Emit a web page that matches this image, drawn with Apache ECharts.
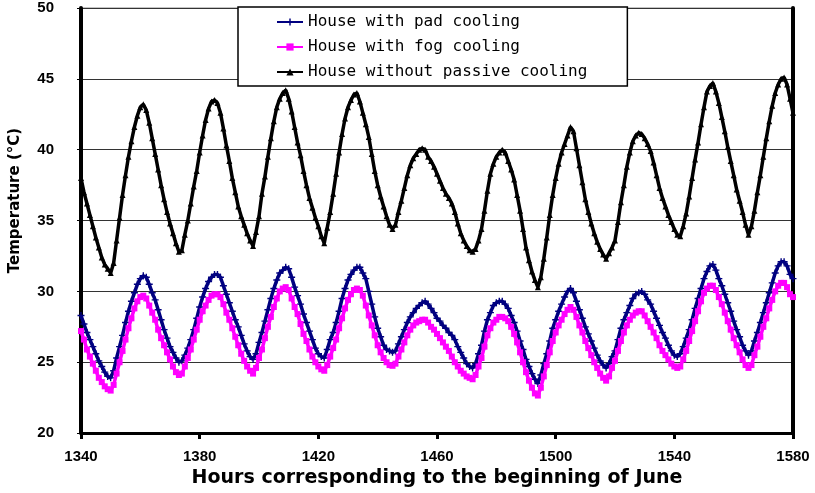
<!DOCTYPE html>
<html>
<head>
<meta charset="utf-8">
<script src="https://cdn.jsdelivr.net/npm/echarts@6/dist/echarts.min.js"></script>
<style>
html,body{margin:0;padding:0;background:#fff;}
#chart{width:815px;height:493px;}
</style>
</head>
<body>
<div id="chart"></div>
<script>
const seriesNames = ['House with pad cooling', 'House with fog cooling', 'House without passive cooling'];
const startHour = 1340;
const xMin = 1340, xMax = 1580, xStep = 40;
const yMin = 20, yMax = 50, yStep = 5;

const padCooling = [
28.3,27.7,27.1,26.6,26.1,25.6,25.1,24.7,24.3,24.0,
23.9,24.4,25.3,26.1,26.9,27.8,28.6,29.3,29.9,30.5,
30.9,31.1,31.0,30.5,29.9,29.4,28.7,28.0,27.3,26.7,
26.1,25.7,25.3,25.0,25.1,25.5,26.0,26.6,27.3,28.1,
28.9,29.6,30.2,30.7,31.0,31.2,31.2,31.0,30.4,29.8,
29.2,28.6,28.0,27.5,26.9,26.3,25.8,25.4,25.2,25.6,
26.4,27.1,27.9,28.7,29.5,30.2,30.8,31.3,31.5,31.7,
31.6,31.0,30.3,29.7,29.1,28.4,27.8,27.2,26.6,26.0,
25.6,25.4,25.3,25.9,26.6,27.1,27.8,28.6,29.5,30.2,
30.8,31.2,31.5,31.7,31.7,31.3,30.9,30.0,29.1,28.2,
27.4,26.8,26.2,25.9,25.8,25.7,25.8,26.3,26.8,27.3,
27.8,28.2,28.5,28.8,29.0,29.2,29.3,29.1,28.8,28.5,
28.1,27.9,27.6,27.4,27.1,26.9,26.6,26.1,25.7,25.3,
24.9,24.7,24.6,24.9,25.6,26.2,27.2,28.0,28.5,29.0,
29.2,29.3,29.3,29.1,28.8,28.3,27.8,27.2,26.5,25.9,
25.2,24.7,24.2,23.8,23.5,24.1,24.9,25.6,26.5,27.4,
28.0,28.6,29.1,29.6,30.0,30.2,29.9,29.3,28.7,28.1,
27.5,27.0,26.5,26.0,25.5,25.1,24.8,24.6,24.9,25.4,
25.8,26.6,27.4,28.0,28.5,29.0,29.5,29.8,29.9,30.0,
29.8,29.4,29.1,28.6,28.1,27.6,27.1,26.7,26.2,25.8,
25.5,25.4,25.6,26.1,26.7,27.3,28.0,28.8,29.5,30.2,
30.9,31.4,31.8,31.9,31.5,30.9,30.4,29.8,29.2,28.6,
27.9,27.3,26.8,26.2,25.8,25.5,25.8,26.5,27.1,27.8,
28.5,29.2,29.9,30.6,31.3,31.8,32.1,32.1,31.8,31.2,
30.9
];

const fogCooling = [
27.2,26.6,25.9,25.4,24.9,24.4,23.9,23.6,23.3,23.1,
23.0,23.4,24.2,25.0,25.8,26.6,27.4,28.1,28.8,29.3,
29.6,29.7,29.5,29.0,28.5,28.0,27.3,26.7,26.2,25.7,
25.2,24.7,24.3,24.1,24.2,24.7,25.3,25.9,26.6,27.3,
28.0,28.6,29.0,29.4,29.7,29.8,29.8,29.6,29.1,28.5,
28.0,27.4,26.8,26.2,25.6,25.1,24.7,24.4,24.2,24.6,
25.3,25.9,26.7,27.5,28.2,28.9,29.5,30.0,30.2,30.3,
30.1,29.5,28.9,28.4,27.7,27.0,26.5,25.9,25.4,25.0,
24.7,24.5,24.4,24.8,25.4,26.0,26.6,27.4,28.1,28.8,
29.4,29.8,30.1,30.2,30.1,29.7,29.0,28.3,27.6,26.9,
26.2,25.7,25.3,25.0,24.8,24.75,24.9,25.4,25.9,26.4,
26.9,27.3,27.6,27.8,27.9,28.0,28.0,27.8,27.5,27.3,
27.0,26.7,26.4,26.1,25.8,25.4,25.0,24.7,24.4,24.2,
24.0,23.9,23.8,24.1,24.7,25.3,26.1,26.9,27.4,27.8,
28.0,28.2,28.2,28.1,27.9,27.5,27.0,26.4,25.7,25.0,
24.3,23.7,23.2,22.8,22.65,23.2,24.0,24.8,25.7,26.5,
27.1,27.6,28.0,28.4,28.7,28.9,28.7,28.2,27.6,27.1,
26.5,26.0,25.5,25.0,24.6,24.2,23.9,23.7,24.0,24.6,
25.1,25.8,26.5,27.1,27.6,28.0,28.3,28.5,28.6,28.6,
28.3,27.9,27.5,27.1,26.7,26.2,25.8,25.5,25.2,24.9,
24.7,24.6,24.7,25.2,25.8,26.5,27.2,27.9,28.6,29.3,
29.9,30.2,30.4,30.4,30.1,29.6,29.1,28.5,27.9,27.3,
26.7,26.2,25.7,25.2,24.8,24.6,24.8,25.5,26.1,26.8,
27.5,28.1,28.8,29.4,30.0,30.4,30.6,30.6,30.3,29.8,
29.6
];

const noPassive = [
38.0,37.0,36.2,35.4,34.6,33.8,33.1,32.4,31.9,31.6,
31.3,32.0,33.6,35.2,36.8,38.2,39.5,40.6,41.6,42.4,
43.0,43.2,42.8,41.9,40.8,39.7,38.6,37.5,36.5,35.6,
34.8,34.1,33.4,32.8,32.9,34.0,35.0,36.2,37.4,38.5,
39.8,41.0,42.1,42.9,43.4,43.5,43.3,42.6,41.5,40.3,
39.2,38.0,37.0,36.0,35.3,34.7,34.1,33.6,33.2,34.2,
35.3,36.9,38.1,39.5,40.8,42.0,43.0,43.6,44.0,44.2,
43.6,42.7,41.6,40.5,39.6,38.5,37.5,36.6,35.9,35.2,
34.6,33.9,33.4,34.5,35.6,36.9,38.3,39.8,41.1,42.2,
43.0,43.5,43.9,44.0,43.4,42.6,41.8,40.9,39.7,38.5,
37.5,36.7,36.0,35.3,34.7,34.4,34.7,35.6,36.4,37.3,
38.2,38.9,39.4,39.7,40.0,40.1,40.0,39.5,39.2,38.8,
38.3,37.8,37.3,36.9,36.6,36.2,35.6,34.8,34.1,33.6,
33.2,32.9,32.8,33.0,33.6,34.4,35.7,37.1,38.3,39.0,
39.5,39.8,40.0,39.8,39.2,38.6,37.9,36.8,35.7,34.4,
33.1,32.2,31.4,30.8,30.3,31.0,32.3,33.8,35.4,36.8,
38.0,39.0,39.8,40.4,41.0,41.6,41.3,40.1,38.9,37.7,
36.5,35.6,34.8,34.1,33.5,33.0,32.6,32.3,32.7,33.1,
33.6,34.9,36.3,37.5,38.8,39.8,40.6,41.0,41.2,41.1,
40.8,40.4,39.9,39.1,38.2,37.3,36.6,36.0,35.4,34.9,
34.4,34.0,33.9,34.6,35.5,36.7,38.0,39.3,40.5,41.8,
43.0,44.1,44.5,44.7,44.1,43.3,42.3,41.3,40.2,39.2,
38.2,37.2,36.4,35.6,34.7,34.0,34.6,35.7,37.0,38.2,
39.5,40.8,42.0,43.1,44.0,44.6,45.0,45.1,44.6,43.6,
42.6
];

function pairs(vals) {
  return vals.map((v, i) => [startHour + i, v]);
}

const plusPath = 'path://M4,0H6V4H10V6H6V10H4V6H0V4H4Z';
const chart = echarts.init(document.getElementById('chart'), null, {renderer: 'canvas'});
const boldAxis = {fontFamily: 'Liberation Sans', fontWeight: 'bold', fontSize: 15, color: '#000',
  formatter: v => String(v)};

chart.setOption({
  animation: false,
  backgroundColor: '#fff',
  grid: {left: 69, right: 22, top: 8, bottom: 53, show: true, borderColor: '#888', borderWidth: 1},
  legend: {
    orient: 'vertical',
    left: 238, top: 7,
    width: 397,
    padding: [7, 40, 6, 38],
    backgroundColor: '#fff',
    borderColor: '#000',
    borderWidth: 1.5,
    itemWidth: 26, itemHeight: 9, itemGap: 9,
    textStyle: {fontFamily: 'DejaVu Sans Mono', fontSize: 16, color: '#000', lineHeight: 16},
    data: seriesNames
  },
  xAxis: {
    type: 'value', min: xMin, max: xMax, interval: xStep,
    name: 'Hours corresponding to the beginning of June',
    nameLocation: 'middle', nameGap: 35,
    nameTextStyle: {fontFamily: 'DejaVu Sans', fontWeight: 'bold', fontSize: 19, color: '#000'},
    axisLine: {lineStyle: {color: '#000', width: 3}},
    axisTick: {length: 6, lineStyle: {color: '#000', width: 3}},
    axisLabel: Object.assign({margin: 16}, boldAxis),
    splitLine: {show: false}
  },
  yAxis: [{
    type: 'value', min: yMin, max: yMax, interval: yStep,
    name: 'Temperature (°C)',
    nameLocation: 'middle', nameGap: 58,
    nameTextStyle: {fontFamily: 'DejaVu Sans', fontWeight: 'bold', fontSize: 15, color: '#000', padding: [0, 0, 0, 40]},
    axisLine: {show: true, lineStyle: {color: '#000', width: 4}},
    axisTick: {show: true, length: 4, lineStyle: {color: '#000', width: 1}},
    axisLabel: Object.assign({margin: 27}, boldAxis),
    splitLine: {show: true, lineStyle: {color: '#333', width: 1}}
  }, {
    type: 'value', min: yMin, max: yMax, interval: yStep, position: 'right',
    axisLine: {show: true, lineStyle: {color: '#000', width: 4}},
    axisTick: {show: false}, axisLabel: {show: false}, splitLine: {show: false}
  }],
  series: [
    {name: seriesNames[0], type: 'line', data: pairs(padCooling), color: '#000080',
     symbol: plusPath, symbolSize: 7, showSymbol: true, lineStyle: {width: 3.5}, z: 3},
    {name: seriesNames[1], type: 'line', data: pairs(fogCooling), color: '#FF00FF',
     symbol: 'rect', symbolSize: 6, showSymbol: true, lineStyle: {width: 3.5}, z: 4},
    {name: seriesNames[2], type: 'line', data: pairs(noPassive), color: '#000000',
     symbol: 'triangle', symbolSize: 6, showSymbol: true, lineStyle: {width: 3.5}, z: 2}
  ]
});
</script>
</body>
</html>
